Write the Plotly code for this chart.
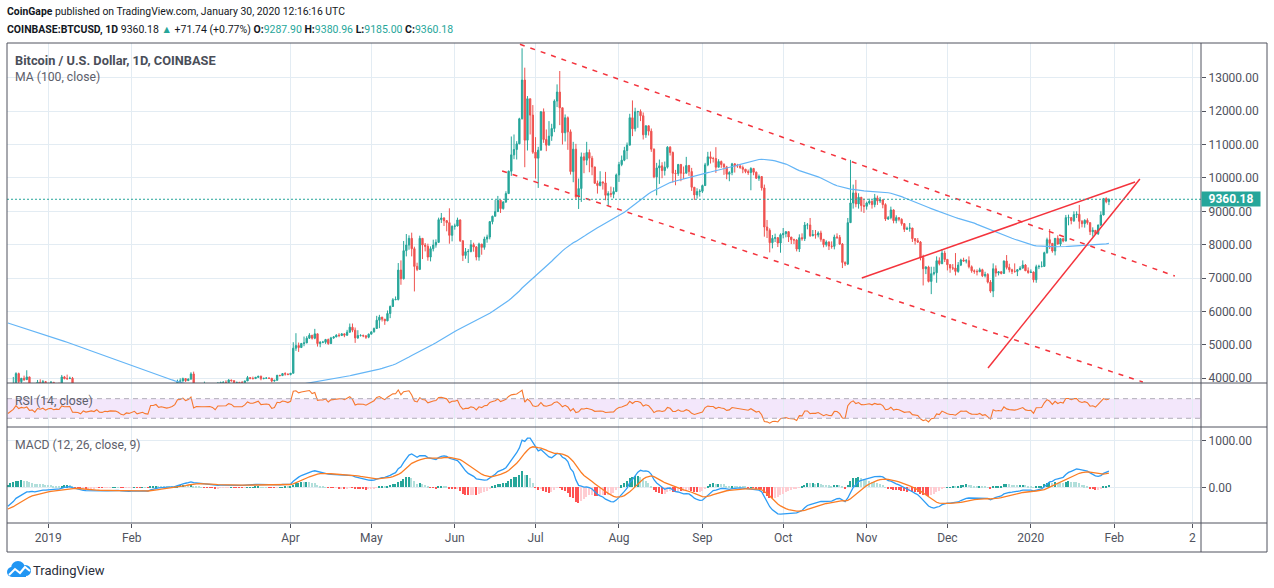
import pandas as pd
import numpy as np
import plotly.graph_objects as go
from plotly.subplots import make_subplots

# ---------------- DATA ----------------
# daily closes before the visible window (Sep 1 - Dec 16, 2018), used for indicator warm-up
warmup_closes = [
    7190, 7280, 7260, 7360, 6700, 6520, 6410, 6200, 6250, 6290, 6280, 6330, 6490, 6490, 6520, 6500, 6250, 6330, 6390, 6490, 6760, 6720, 6710, 6590, 6440, 6460, 6680, 6640, 6600, 6630,
    6590, 6510, 6480, 6580, 6610, 6560, 6590, 6640, 6620, 6580, 6240, 6300, 6300, 6280, 6720, 6740, 6530, 6420, 6400, 6410, 6420, 6400, 6400, 6420, 6400, 6420, 6410, 6420, 6270, 6290, 6330,
    6380, 6420, 6390, 6500, 6410, 6440, 6520, 6420, 6350, 6410, 6370, 6350, 6310, 5610, 5580, 5500, 5550, 5620, 4820, 4450, 4600, 4310, 4330, 3910, 4000, 3780, 3820, 4250, 4270, 4000,
    4200, 4160, 3870, 3970, 3760, 3510, 3420, 3410, 3540, 3430, 3380, 3500, 3300, 3240, 3230, 3250,
]
first_day = "2018-12-17"
last_day = "2020-01-30"

closes = [
    3540, 3690, 3830, 4140, 3900, 4000, 3960, 4040, 3760, 3800, 3600, 3880, 3820, 3900, 3740,
    3850, 3880, 3780, 3820, 3790, 4040, 3990, 3990, 4000, 3630, 3630, 3610, 3510, 3660, 3580, 3610, 3640, 3600, 3690, 3540, 3530, 3580, 3560, 3590, 3580, 3580, 3530, 3430, 3400, 3460, 3440,
    3460, 3500, 3400, 3410, 3440, 3390, 3370, 3650, 3650, 3690, 3600, 3620, 3600, 3580, 3600, 3630, 3690, 3900, 3920, 3990, 3930, 3980, 4130, 3750, 3830, 3810, 3820, 3820,
    3830, 3830, 3800, 3720, 3860, 3870, 3880, 3870, 3950, 3930, 3870, 3880, 3870, 3870, 3920, 4020, 3990, 3990, 4030, 4060, 3990, 4000, 4010, 4000, 3920, 3940, 4090, 4080, 4140, 4130, 4110,
    4150, 4900, 4980, 4920, 5040, 5060, 5200, 5290, 5200, 5330, 5040, 5080, 5080, 5160, 5040, 5210, 5240, 5290, 5280, 5330, 5290, 5380, 5530, 5440, 5210, 5280, 5280, 5270, 5230, 5320,
    5390, 5490, 5740, 5830, 5770, 5720, 5940, 6150, 6350, 6360, 7240, 6980, 7820, 7990, 8190, 7880, 7350, 7260, 8190, 7990, 7950, 7630, 7880, 7990, 8070, 8750, 8800, 8720, 8660, 8280, 8550,
    8560, 8740, 8120, 7680, 7790, 7800, 8000, 7930, 7630, 8020, 7920, 8170, 8230, 8690, 8850, 8990, 9330, 9080, 9280, 9530, 10200, 10690, 10850, 11020, 11770, 12930, 11130, 12370, 11880, 10770,
    10590, 10830, 11980, 11150, 10980, 11250, 11480, 12300, 12570, 12100, 11350, 11800, 11380, 10190, 10860, 9430, 9680, 10630, 10530, 10760, 10590, 10330, 9840, 9770, 9880, 9850, 9480, 9530, 9510, 9590, 10090,
    10400, 10530, 10820, 10980, 11800, 11470, 11980, 11990, 11860, 11290, 11560, 11400, 10860, 10030, 10300, 10360, 10220, 10320, 10920, 10760, 10140, 10130, 10400, 10140, 10140, 10370, 10190, 9720, 9490, 9590, 9600,
    9770, 10390, 10630, 10580, 10580, 10320, 10490, 10400, 10330, 10110, 10160, 10420, 10360, 10360, 10310, 10260, 10190, 10160, 10280, 10170, 9990, 10040, 9700, 8530, 8430, 8060, 8190, 8210, 8050, 8300,
    8330, 8390, 8230, 8150, 8140, 7870, 8210, 8180, 8590, 8590, 8270, 8300, 8290, 8350, 8160, 8000, 8080, 7960, 7950, 8230, 8220, 8020, 7470, 7420, 8660, 9250, 9550, 9220, 9420, 9170, 9150,
    9250, 9300, 9200, 9400, 9310, 9340, 9200, 8770, 8810, 9040, 8720, 8810, 8760, 8630, 8460, 8490, 8500, 8180, 8120, 8080, 7620, 7280, 7330, 6900, 7130, 7160, 7520, 7430, 7750, 7560,
    7400, 7300, 7300, 7200, 7390, 7540, 7510, 7520, 7340, 7220, 7200, 7190, 7250, 7070, 7110, 6880, 6610, 7280, 7150, 7190, 7140, 7510, 7320, 7250, 7200, 7200, 7250, 7300, 7390, 7220, 7170,
    7180, 6950, 7340, 7350, 7350, 7760, 8150, 8040, 7810, 8190, 8020, 8180, 8110, 8810, 8810, 8720, 8900, 8910, 8700, 8630, 8730, 8660, 8390, 8430, 8330, 8590, 8890, 9380, 9288.44, 9360.18,
]
highs = [
    3650, 3700, 4040, 4180, 4170, 4010, 4080, 4240, 4050, 3860, 3840, 3950, 3970, 3950, 3920,
    3860, 3920, 3880, 3850, 3870, 4100, 4070, 4110, 4050, 4040, 3690, 3650, 3620, 3710, 3690, 3670, 3650, 3650, 3750, 3700, 3570, 3620, 3610, 3610, 3600, 3680, 3590, 3530, 3440, 3480, 3480,
    3480, 3510, 3500, 3430, 3460, 3450, 3400, 3730, 3680, 3690, 3690, 3640, 3650, 3620, 3640, 3670, 3700, 3960, 4000, 4020, 4000, 3990, 4180, 4200, 3860, 3840, 3840, 3900,
    3860, 3840, 3840, 3810, 3880, 3900, 3910, 3940, 3970, 3950, 3940, 3890, 3890, 3920, 3930, 4070, 4020, 4050, 4040, 4070, 4080, 4010, 4020, 4010, 4010, 3950, 4100, 4090, 4150, 4180, 4140,
    4160, 5080, 5350, 5070, 5060, 5250, 5260, 5350, 5290, 5480, 5340, 5110, 5120, 5180, 5190, 5240, 5260, 5320, 5350, 5350, 5340, 5450, 5640, 5640, 5520, 5440, 5320, 5310, 5290, 5340,
    5400, 5520, 5870, 5900, 5840, 5770, 6030, 6180, 6400, 6450, 7450, 7530, 8110, 8320, 8280, 8360, 7940, 7460, 8270, 8190, 8050, 8030, 7950, 8150, 8160, 8810, 8950, 8820, 8740, 9090, 8580,
    8630, 8810, 8760, 8120, 7900, 7870, 8140, 8060, 7960, 8060, 8020, 8240, 8300, 8710, 8870, 9340, 9460, 9340, 9300, 9600, 10220, 11240, 11300, 11100, 11800, 13880, 13300, 12450, 12300, 12180,
    11220, 10930, 12000, 12080, 11450, 11700, 11620, 12350, 12800, 13200, 12100, 11900, 11840, 11450, 11080, 11020, 9980, 10760, 10750, 11080, 10850, 10660, 10330, 9920, 10200, 9890, 10180, 9600, 9740, 9720, 10130,
    10480, 10670, 10930, 11060, 11920, 12320, 12100, 12000, 12050, 11960, 11570, 11570, 11480, 10880, 10450, 10550, 10470, 10490, 10950, 10950, 10790, 10240, 10420, 10420, 10340, 10630, 10390, 10300, 9720, 9690, 9660,
    9800, 10450, 10780, 10790, 10630, 10920, 10560, 10520, 10440, 10360, 10200, 10450, 10440, 10420, 10380, 10370, 10270, 10250, 10320, 10300, 10190, 10100, 10050, 9800, 8740, 8490, 8290, 8330, 8230, 8340,
    8500, 8400, 8400, 8230, 8180, 8170, 8310, 8340, 8680, 8650, 8800, 8440, 8440, 8400, 8420, 8170, 8130, 8100, 8100, 8300, 8340, 8290, 8050, 7500, 8800, 10540, 9800, 9940, 9540, 9430, 9380,
    9290, 9380, 9330, 9520, 9470, 9430, 9360, 9240, 8860, 9140, 9060, 8880, 8820, 8790, 8650, 8540, 8650, 8500, 8200, 8200, 8110, 7700, 7360, 7370, 7340, 7340, 7650, 7620, 7870, 7820,
    7570, 7420, 7420, 7750, 7480, 7580, 7610, 7570, 7650, 7380, 7260, 7260, 7310, 7280, 7190, 7150, 6940, 7440, 7380, 7210, 7200, 7530, 7690, 7430, 7280, 7440, 7270, 7360, 7530, 7420, 7320,
    7260, 7200, 7400, 7400, 7500, 7790, 8210, 8470, 8050, 8200, 8280, 8200, 8200, 8890, 8900, 8830, 9000, 9000, 9190, 8740, 8760, 8790, 8670, 8520, 8440, 8600, 9000, 9400, 9420, 9380.96,
]
lows = [
    3230, 3460, 3680, 3820, 3800, 3860, 3920, 3950, 3660, 3710, 3570, 3580, 3810, 3780, 3690,
    3700, 3790, 3760, 3730, 3780, 3770, 3970, 3950, 3980, 3580, 3550, 3560, 3470, 3500, 3560, 3580, 3560, 3570, 3600, 3490, 3500, 3440, 3540, 3550, 3530, 3570, 3500, 3400, 3360, 3400, 3420,
    3430, 3450, 3390, 3390, 3410, 3370, 3360, 3360, 3630, 3620, 3590, 3570, 3580, 3560, 3580, 3600, 3610, 3680, 3860, 3900, 3890, 3920, 3950, 3730, 3740, 3780, 3680, 3790,
    3810, 3790, 3780, 3700, 3710, 3840, 3860, 3840, 3860, 3900, 3850, 3840, 3850, 3820, 3870, 3920, 3980, 3970, 3980, 4010, 3940, 3970, 3990, 3980, 3880, 3900, 3930, 4060, 4070, 4080, 4100,
    4090, 4150, 4820, 4790, 4910, 4960, 5050, 5180, 5160, 5170, 4950, 4930, 5050, 5030, 5000, 5030, 5180, 5230, 5230, 5270, 5230, 5270, 5370, 5380, 5060, 5180, 5250, 5230, 5180, 5200,
    5320, 5370, 5480, 5500, 5700, 5600, 5710, 5800, 6140, 6340, 6330, 6800, 6960, 7650, 7850, 7650, 6600, 7210, 7260, 7570, 7800, 7520, 7500, 7800, 7910, 8050, 8650, 8560, 8400, 8030, 8100,
    8450, 8550, 8080, 7510, 7580, 7450, 7770, 7790, 7530, 7520, 7700, 7850, 8060, 8160, 8610, 8850, 8990, 8950, 9050, 9250, 9530, 10060, 10560, 10550, 11010, 11750, 10320, 10820, 11300, 10720,
    9980, 9700, 10830, 11050, 10800, 10980, 11110, 11370, 12120, 11580, 11000, 11090, 10840, 10100, 9870, 9360, 9070, 9280, 10140, 10380, 10170, 10080, 9820, 9530, 9750, 9650, 9330, 9160, 9420, 9390, 9580,
    9880, 10350, 10500, 10560, 10980, 11250, 11390, 11500, 11700, 11150, 11200, 11270, 10780, 9990, 9480, 9820, 9990, 10070, 10280, 10670, 9860, 9780, 10060, 9900, 9970, 10140, 10060, 9610, 9340, 9380, 9440,
    9550, 9760, 10350, 10430, 10460, 10150, 10320, 10300, 10090, 9960, 9900, 10080, 10160, 10300, 10270, 10140, 10140, 10090, 9630, 10080, 9970, 9910, 9620, 8240, 8200, 7770, 7890, 8080, 7930, 7760,
    8190, 8220, 8080, 8020, 8020, 7800, 7780, 8120, 8110, 8460, 8230, 8250, 8180, 8220, 8090, 7920, 7940, 7840, 7880, 7860, 8170, 7990, 7300, 7360, 7390, 8650, 9080, 9120, 9080, 8990, 8950,
    9050, 9200, 9080, 9120, 9190, 9250, 9090, 8710, 8740, 8760, 8640, 8640, 8700, 8570, 8380, 8440, 8390, 8080, 8000, 8050, 7530, 6780, 7120, 6870, 6520, 7080, 6860, 7380, 7420, 7480,
    7230, 7160, 7240, 7080, 7160, 7360, 7490, 7440, 7290, 7160, 7130, 7080, 7190, 7030, 7020, 6840, 6560, 6430, 7040, 7080, 7110, 7130, 7260, 7170, 7120, 7160, 7060, 7240, 7280, 7210, 7130,
    7160, 6870, 6860, 7270, 7320, 7340, 7730, 7870, 7760, 7680, 8000, 7960, 8070, 8100, 8580, 8610, 8680, 8800, 8480, 8520, 8510, 8600, 8290, 8240, 8290, 8290, 8560, 8880, 9240, 9185.00,
]

# axis ticks
price_ticks = [4000, 5000, 6000, 7000, 8000, 9000, 10000, 11000, 12000, 13000]
macd_ticks = [0, 1000]
date_ticks = ["2019-01-01", "2019-02-01", "2019-04-01", "2019-05-01", "2019-06-01", "2019-07-01",
              "2019-08-01", "2019-09-01", "2019-10-01", "2019-11-01", "2019-12-01", "2020-01-01",
              "2020-02-01", "2020-03-01"]
date_tick_text = ["2019", "Feb", "Apr", "May", "Jun", "Jul", "Aug", "Sep", "Oct", "Nov", "Dec",
                  "2020", "Feb", "2"]

# hand-drawn trend lines (date, price)
channel_top_x = ["2019-06-25 05:00", "2020-02-23 12:00"]
channel_top_y = [14000, 7063]
channel_bottom_x = ["2019-06-18 14:00", "2020-02-11 14:00"]
channel_bottom_y = [10207, 3889]
wedge_upper_x = ["2019-10-30 05:00", "2020-02-08 17:00"]
wedge_upper_y = [7003, 9877]
wedge_lower_x = ["2019-12-16 02:00", "2020-02-10 12:00"]
wedge_lower_y = [4308, 9967]
last_price = 9360.18

# ---------------- PREP ----------------
dates = pd.date_range(first_day, last_day, freq="D")
assert len(dates) == len(closes) == len(highs) == len(lows), (len(dates), len(closes), len(highs), len(lows))
n = len(closes)
opens = [warmup_closes[-1]] + closes[:-1]
opens[-1] = 9287.90
highs = [max(h, o, c) for h, o, c in zip(highs, opens, closes)]
lows = [min(l, o, c) for l, o, c in zip(lows, opens, closes)]

s = pd.Series(warmup_closes + closes, dtype=float)
ma100 = s.rolling(100).mean().iloc[-n:].values
ema12 = s.ewm(span=12, adjust=False).mean()
ema26 = s.ewm(span=26, adjust=False).mean()
macd = ema12 - ema26
signal = macd.ewm(span=9, adjust=False).mean()
hist = macd - signal
delta = s.diff()
up = delta.clip(lower=0).ewm(alpha=1 / 14, adjust=False).mean()
dn = (-delta.clip(upper=0)).ewm(alpha=1 / 14, adjust=False).mean()
rsi = (100 - 100 / (1 + up / dn)).iloc[-n:].values
macd_v = macd.iloc[-n:].values
sig_v = signal.iloc[-n:].values
hist_all = hist.values
hist_v = hist_all[-n:]
hcols = []
for i in range(n):
    h = hist_all[len(hist_all) - n + i]
    p = hist_all[len(hist_all) - n + i - 1]
    if h >= 0:
        hcols.append("#26a69a" if h > p else "#b2dfdb")
    else:
        hcols.append("#ff5252" if h < p else "#ffcdd2")

# ---------------- FIGURE ----------------
W, H = 1274, 588
L, R, T, B = 7, 1201, 43, 523


def px(x):
    return (x - L) / (R - L)


def py(y):
    return (B - y) / (B - T)


fig = make_subplots(rows=3, cols=1, shared_xaxes=True, vertical_spacing=0,
                    row_heights=[340, 44, 96])

fig.add_trace(go.Candlestick(
    x=dates, open=opens, high=highs, low=lows, close=closes,
    increasing=dict(line=dict(color="#26a69a", width=1), fillcolor="#26a69a"),
    decreasing=dict(line=dict(color="#ef5350", width=1), fillcolor="#ef5350"),
    whiskerwidth=0, hoverinfo="skip", showlegend=False), row=1, col=1)
fig.add_trace(go.Scatter(x=dates, y=ma100, mode="lines",
                         line=dict(color="#64b5f6", width=1.2), showlegend=False), row=1, col=1)

for xs, ys, dash in [(channel_top_x, channel_top_y, "5px,6px"),
                     (channel_bottom_x, channel_bottom_y, "5px,6px"),
                     (wedge_upper_x, wedge_upper_y, "solid"),
                     (wedge_lower_x, wedge_lower_y, "solid")]:
    fig.add_trace(go.Scatter(x=pd.to_datetime(xs), y=ys, mode="lines",
                             line=dict(color="#f4333c", width=1.5, dash=dash),
                             showlegend=False), row=1, col=1)

# RSI
fig.add_trace(go.Scatter(x=dates, y=rsi, mode="lines",
                         line=dict(color="#f7782e", width=1.1), showlegend=False), row=2, col=1)
# MACD
fig.add_trace(go.Bar(x=dates, y=hist_v, marker=dict(color=hcols, line=dict(width=0)),
                     width=86400000 * 0.55, showlegend=False), row=3, col=1)
fig.add_trace(go.Scatter(x=dates, y=macd_v, mode="lines",
                         line=dict(color="#2d9cf5", width=1.3), showlegend=False), row=3, col=1)
fig.add_trace(go.Scatter(x=dates, y=sig_v, mode="lines",
                         line=dict(color="#fb7d24", width=1.3), showlegend=False), row=3, col=1)

xrange = ["2018-12-16 15:50", "2020-03-04 05:00"]
grid = "#e3ecf3"
axis_font = dict(family="Roboto, Liberation Sans, sans-serif", size=12, color="#50535e")
for r in (1, 2, 3):
    fig.update_xaxes(row=r, col=1, type="date", range=xrange, tickvals=date_ticks,
                     ticktext=date_tick_text, showgrid=True, gridcolor=grid, gridwidth=1,
                     zeroline=False, showline=False, rangeslider_visible=False,
                     showticklabels=(r == 3), ticks="outside" if r == 3 else "",
                     ticklen=4, tickcolor="#50535e", tickfont=axis_font)
fig.update_yaxes(row=1, col=1, side="right", range=[3859, 14039], tickvals=price_ticks,
                 tickformat=".2f", showgrid=True, gridcolor=grid, zeroline=False,
                 ticks="outside", ticklen=4, tickcolor="#50535e", tickfont=axis_font)
fig.update_yaxes(row=2, col=1, side="right", range=[12.2, 102], showticklabels=False,
                 showgrid=False, zeroline=False)
fig.update_yaxes(row=3, col=1, side="right", range=[-766, 1294], tickvals=macd_ticks,
                 tickformat=".2f", showgrid=True, gridcolor=grid, zeroline=False,
                 ticks="outside", ticklen=4, tickcolor="#50535e", tickfont=axis_font)

shapes = []
# RSI band
shapes.append(dict(type="rect", xref="x2 domain", yref="y2", x0=0, x1=1, y0=30, y1=70,
                   fillcolor="#f3e7fb", line=dict(width=0), layer="below"))
for lv in (30, 70):
    shapes.append(dict(type="line", xref="x2 domain", yref="y2", x0=0, x1=1, y0=lv, y1=lv,
                       line=dict(color="#b0acb8", width=1, dash="5px,4px")))
# last price line
shapes.append(dict(type="line", xref="x domain", yref="y", x0=0, x1=1, y0=last_price, y1=last_price,
                   line=dict(color="#26a69a", width=1, dash="2px,2px")))
# pane borders
bc = "#50535e"
shapes.append(dict(type="rect", xref="paper", yref="paper", x0=px(7), x1=px(1267),
                   y0=py(552), y1=py(43), line=dict(color=bc, width=1)))
shapes.append(dict(type="line", xref="paper", yref="paper", x0=px(1201), x1=px(1201),
                   y0=py(552), y1=py(43), line=dict(color=bc, width=1)))
for yy in (383, 427, 523):
    shapes.append(dict(type="line", xref="paper", yref="paper", x0=px(7), x1=px(1267),
                       y0=py(yy), y1=py(yy), line=dict(color=bc, width=1)))
# TradingView cloud logo
logo = "#2196f3"
for (x0, y0, x1, y1) in [(7, 567, 17, 577), (11, 561, 25, 575), (20, 565, 31, 576)]:
    shapes.append(dict(type="circle", xref="paper", yref="paper", x0=px(x0), x1=px(x1),
                       y0=py(y1), y1=py(y0), fillcolor=logo, line=dict(width=0)))
shapes.append(dict(type="rect", xref="paper", yref="paper", x0=px(12), x1=px(26),
                   y0=py(577), y1=py(570), fillcolor=logo, line=dict(width=0)))
pts = [(9, 575), (15, 569), (20, 573), (25, 567), (30, 571)]
path = "M " + " L ".join(f"{px(a):.5f},{py(b):.5f}" for a, b in pts)
shapes.append(dict(type="path", xref="paper", yref="paper", path=path,
                   line=dict(color="white", width=2)))

font = "Roboto, Liberation Sans, sans-serif"
dark = "#131722"
teal = "#26a69a"
ann = []


def text(x, y, t, size, color, **kw):
    ann.append(dict(xref="paper", yref="paper", x=px(x), y=py(y), text=t, showarrow=False,
                    xanchor="left", yanchor="middle", font=dict(family=font, size=size, color=color), **kw))


text(5, 12, "<b>CoinGape</b> published on TradingView.com, January 30, 2020 12:16:16 UTC", 10.4, dark)
text(5, 30, "<b>COINBASE:BTCUSD, 1D</b> 9360.18 <span style='color:#26a69a'>▲</span> +71.74 (+0.77%) "
             "<b>O:</b><span style='color:#26a69a'>9287.90</span> <b>H:</b><span style='color:#26a69a'>9380.96</span> "
             "<b>L:</b><span style='color:#26a69a'>9185.00</span> <b>C:</b><span style='color:#26a69a'>9360.18</span>",
     10.5, dark)
text(13, 61, "<b>Bitcoin / U.S. Dollar, 1D, COINBASE</b>", 12.8, "#4a4e59")
text(13, 77, "MA (100, close)", 12.2, "#5d606b")
text(13, 401, "RSI (14, close)", 12.2, "#5d606b")
text(13, 445, "MACD (12, 26, close, 9)", 12.2, "#5d606b")
text(31, 570, "TradingView", 13, "#2a2e39")
ann.append(dict(xref="paper", yref="y", x=px(1201), y=last_price, text="<b>9360.18</b>",
                showarrow=False, xanchor="left", yanchor="middle", width=58, height=14,
                bgcolor=teal, font=dict(family=font, size=12, color="white"), borderpad=0))

fig.update_layout(width=W, height=H, autosize=False,
                  margin=dict(l=L, r=W - R, t=T, b=H - B),
                  paper_bgcolor="white", plot_bgcolor="white",
                  shapes=shapes, annotations=ann, showlegend=False, bargap=0,
                  hovermode=False)
fig.write_html("out.html")
